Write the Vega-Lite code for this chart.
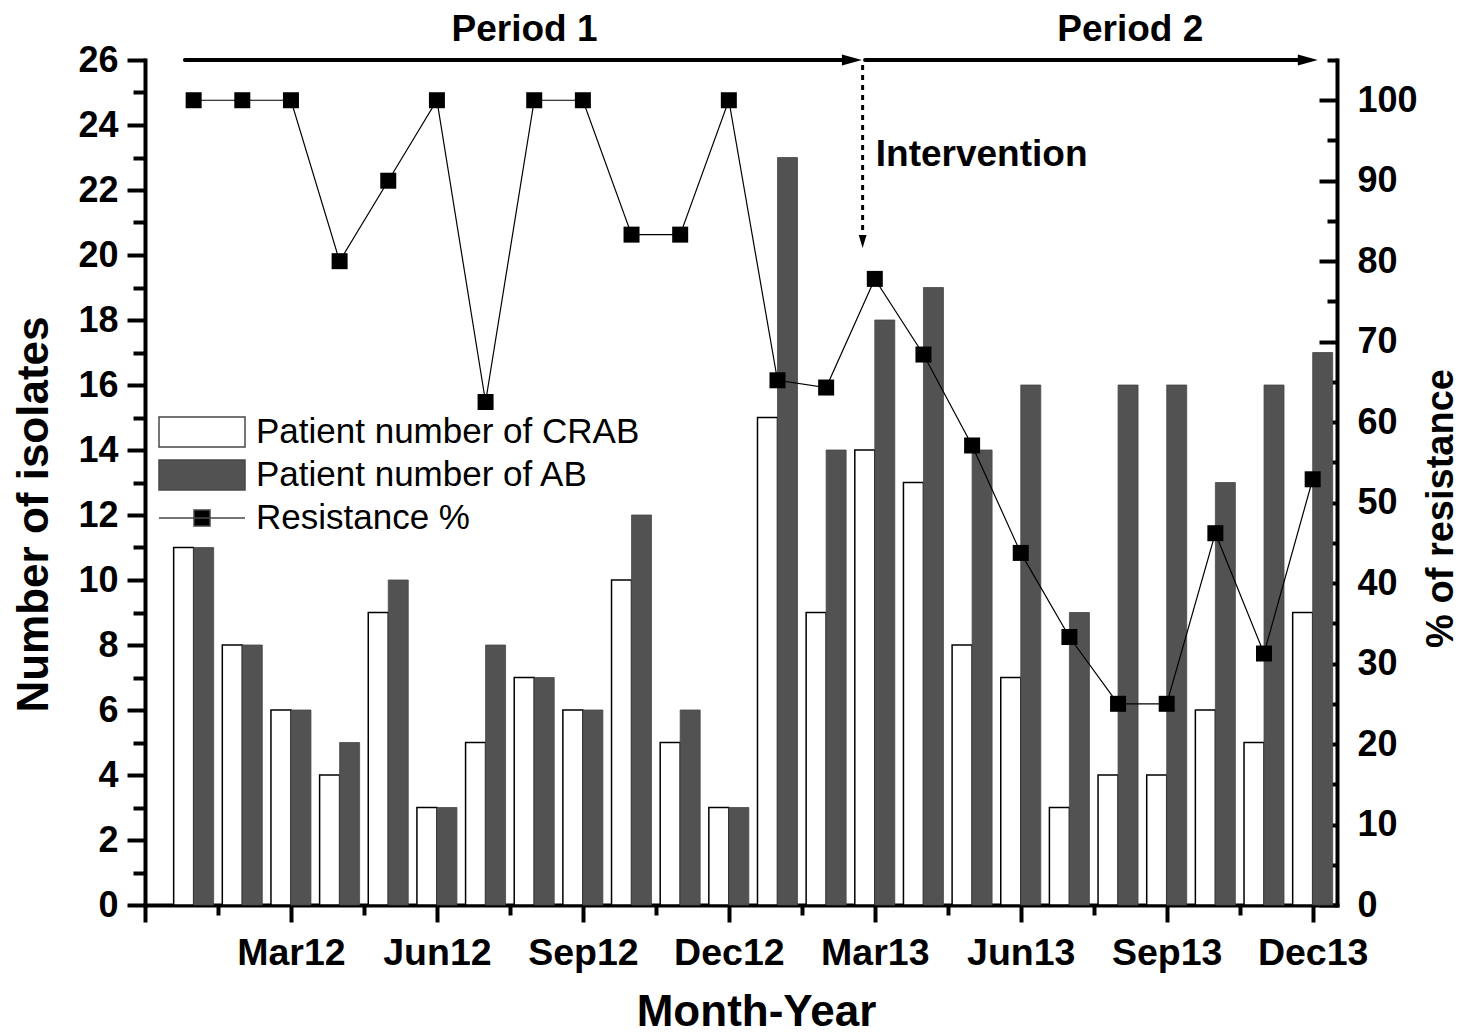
{
  "$schema": "https://vega.github.io/schema/vega-lite/v6.json",
  "width": 1192,
  "height": 845,
  "autosize": "none",
  "padding": {"left": 145, "top": 60, "right": 131, "bottom": 128},
  "background": "white",
  "datasets": {
    "monthly": [
      {"idx": 1, "month": "Jan12", "crab": 11, "ab": 11, "res": 100},
      {"idx": 2, "month": "Feb12", "crab": 8, "ab": 8, "res": 100},
      {"idx": 3, "month": "Mar12", "crab": 6, "ab": 6, "res": 100},
      {"idx": 4, "month": "Apr12", "crab": 4, "ab": 5, "res": 80},
      {"idx": 5, "month": "May12", "crab": 9, "ab": 10, "res": 90},
      {"idx": 6, "month": "Jun12", "crab": 3, "ab": 3, "res": 100},
      {"idx": 7, "month": "Jul12", "crab": 5, "ab": 8, "res": 62.5},
      {"idx": 8, "month": "Aug12", "crab": 7, "ab": 7, "res": 100},
      {"idx": 9, "month": "Sep12", "crab": 6, "ab": 6, "res": 100},
      {"idx": 10, "month": "Oct12", "crab": 10, "ab": 12, "res": 83.3},
      {"idx": 11, "month": "Nov12", "crab": 5, "ab": 6, "res": 83.3},
      {"idx": 12, "month": "Dec12", "crab": 3, "ab": 3, "res": 100},
      {"idx": 13, "month": "Jan13", "crab": 15, "ab": 23, "res": 65.2},
      {"idx": 14, "month": "Feb13", "crab": 9, "ab": 14, "res": 64.3},
      {"idx": 15, "month": "Mar13", "crab": 14, "ab": 18, "res": 77.8},
      {"idx": 16, "month": "Apr13", "crab": 13, "ab": 19, "res": 68.4},
      {"idx": 17, "month": "May13", "crab": 8, "ab": 14, "res": 57.1},
      {"idx": 18, "month": "Jun13", "crab": 7, "ab": 16, "res": 43.75},
      {"idx": 19, "month": "Jul13", "crab": 3, "ab": 9, "res": 33.3},
      {"idx": 20, "month": "Aug13", "crab": 4, "ab": 16, "res": 25},
      {"idx": 21, "month": "Sep13", "crab": 4, "ab": 16, "res": 25},
      {"idx": 22, "month": "Oct13", "crab": 6, "ab": 13, "res": 46.2},
      {"idx": 23, "month": "Nov13", "crab": 5, "ab": 16, "res": 31.25},
      {"idx": 24, "month": "Dec13", "crab": 9, "ab": 17, "res": 52.9}
    ],
    "periods": [
      {"label": "Period 1", "start": 0.82, "end": 14.4, "head": 14.53, "mid": 7.8},
      {"label": "Period 2", "start": 14.8, "end": 23.8, "head": 23.9, "mid": 20.25}
    ],
    "intervention": [
      {"label": "Intervention", "x": 14.75, "top": 25.85, "bottom": 20.55, "head": 20.415, "textX": 15.02, "textY": 22.74}
    ]
  },
  "layer": [
    {
      "resolve": {"axis": {"x": "independent", "y": "independent"}},
      "layer": [
        {
          "data": {"name": "monthly"},
          "mark": {"type": "bar", "width": 20, "xOffset": -10, "stroke": "black", "strokeWidth": 1.5},
          "encoding": {
            "x": {
              "field": "idx", "type": "quantitative",
              "scale": {"domain": [0, 24.5], "nice": false, "zero": false, "padding": 0},
              "axis": {
                "orient": "bottom",
                "values": [0, 3, 6, 9, 12, 15, 18, 21, 24],
                "labelExpr": "datum.value > 0 ? ['Mar12','Jun12','Sep12','Dec12','Mar13','Jun13','Sep13','Dec13'][datum.value/3-1] : ''",
                "tickSize": 17,
                "labelPadding": 12,
                "labelFontSize": 37.5,
                "title": "Month-Year",
                "titleFontSize": 44,
                "titleX": 611,
                "titleY": 120,
                "titleAlign": "center",
                "titleBaseline": "alphabetic"
              }
            },
            "y": {
              "field": "crab", "type": "quantitative",
              "scale": {"domain": [0, 26], "nice": false},
              "axis": {
                "orient": "left",
                "values": [0, 2, 4, 6, 8, 10, 12, 14, 16, 18, 20, 22, 24, 26],
                "tickSize": 18,
                "labelPadding": 9,
                "title": "Number of isolates",
                "titleFontSize": 44,
                "titleAngle": 270,
                "titleX": -98,
                "titleY": 454,
                "titleAlign": "center",
                "titleBaseline": "alphabetic"
              }
            },
            "color": {
              "datum": "Patient number of CRAB", "type": "nominal",
              "scale": {
                "domain": ["Patient number of CRAB", "Patient number of AB", "Resistance %"],
                "range": ["white", "#525252", "black"]
              },
              "legend": {
                "title": null,
                "orient": "none",
                "legendX": 13,
                "legendY": 350.5,
                "padding": 0,
                "symbolSize": 7396,
                "symbolType": {"expr": "datum.value === 'Resistance %' ? 'M-1,0H1M-0.186,-0.186H0.186V0.186H-0.186Z' : 'M-1,-0.35H1V0.35H-1Z'"},
                "symbolStrokeColor": "black",
                "symbolStrokeWidth": 1.5,
                "symbolOpacity": 1,
                "clipHeight": 43,
                "rowPadding": 0,
                "labelOffset": 10,
                "labelFont": "Liberation Sans",
                "labelFontSize": 35,
                "labelFontWeight": "normal",
                "labelColor": "black",
                "labelLimit": 600
              }
            }
          }
        },
        {
          "data": {"name": "monthly"},
          "mark": {"type": "bar", "width": 20, "xOffset": 10, "stroke": "#474747", "strokeWidth": 0.8},
          "encoding": {
            "x": {
              "field": "idx", "type": "quantitative",
              "axis": {
                "orient": "bottom",
                "values": [1.5, 4.5, 7.5, 10.5, 13.5, 16.5, 19.5, 22.5],
                "tickSize": 10,
                "labels": false,
                "domain": false,
                "title": null
              }
            },
            "y": {
              "field": "ab", "type": "quantitative",
              "axis": {
                "orient": "left",
                "values": [1, 3, 5, 7, 9, 11, 13, 15, 17, 19, 21, 23, 25],
                "tickSize": 12,
                "labels": false,
                "domain": false,
                "title": null
              }
            },
            "color": {"datum": "Patient number of AB", "type": "nominal"}
          }
        },
        {
          "data": {"name": "periods"},
          "mark": {"type": "rule", "strokeWidth": 4, "color": "black", "strokeCap": "round"},
          "encoding": {
            "x": {"field": "start", "type": "quantitative", "axis": null},
            "x2": {"field": "end"},
            "y": {"datum": 26, "type": "quantitative", "axis": null}
          }
        },
        {
          "data": {"name": "periods"},
          "mark": {"type": "point", "shape": "M-1,-0.55L1,0L-1,0.55Z", "size": 400, "filled": true, "color": "black", "opacity": 1, "strokeWidth": 0},
          "encoding": {
            "x": {"field": "head", "type": "quantitative", "axis": null},
            "y": {"datum": 26, "type": "quantitative", "axis": null}
          }
        },
        {
          "data": {"name": "periods"},
          "mark": {"type": "text", "font": "Liberation Sans", "fontSize": 37, "fontWeight": "bold", "color": "black", "align": "center", "baseline": "alphabetic"},
          "encoding": {
            "x": {"field": "mid", "type": "quantitative", "axis": null},
            "y": {"datum": 26.6, "type": "quantitative", "axis": null},
            "text": {"field": "label"}
          }
        },
        {
          "data": {"name": "intervention"},
          "mark": {"type": "rule", "strokeWidth": 3, "color": "black", "strokeDash": [5, 5]},
          "encoding": {
            "x": {"field": "x", "type": "quantitative", "axis": null},
            "y": {"field": "top", "type": "quantitative", "axis": null},
            "y2": {"field": "bottom"}
          }
        },
        {
          "data": {"name": "intervention"},
          "mark": {"type": "point", "shape": "M-0.6,-1L0.6,-1L0,1Z", "size": 169, "filled": true, "color": "black", "opacity": 1, "strokeWidth": 0},
          "encoding": {
            "x": {"field": "x", "type": "quantitative", "axis": null},
            "y": {"field": "head", "type": "quantitative", "axis": null}
          }
        },
        {
          "data": {"name": "intervention"},
          "mark": {"type": "text", "font": "Liberation Sans", "fontSize": 37, "fontWeight": "bold", "color": "black", "align": "left", "baseline": "alphabetic"},
          "encoding": {
            "x": {"field": "textX", "type": "quantitative", "axis": null},
            "y": {"field": "textY", "type": "quantitative", "axis": null},
            "text": {"field": "label"}
          }
        }
      ]
    },
    {
      "resolve": {"axis": {"y": "independent"}},
      "layer": [
        {
          "data": {"name": "monthly"},
          "mark": {"type": "line", "strokeWidth": 1.2, "color": "black"},
          "encoding": {
            "x": {"field": "idx", "type": "quantitative", "axis": null},
            "y": {
              "field": "res", "type": "quantitative",
              "scale": {"domain": [0, 105], "nice": false},
              "axis": {
                "orient": "right",
                "values": [0, 10, 20, 30, 40, 50, 60, 70, 80, 90, 100],
                "tickSize": -18,
                "labelPadding": 38,
                "title": "% of resistance",
                "titleFontSize": 38,
                "titleAngle": 270,
                "titleX": 115,
                "titleY": 448,
                "titleAlign": "center",
                "titleBaseline": "alphabetic"
              }
            }
          }
        },
        {
          "data": {"name": "monthly"},
          "mark": {"type": "point", "shape": "square", "filled": true, "size": 256, "opacity": 1, "color": "black"},
          "encoding": {
            "x": {"field": "idx", "type": "quantitative", "axis": null},
            "y": {
              "field": "res", "type": "quantitative",
              "axis": {
                "orient": "right",
                "values": [5, 15, 25, 35, 45, 55, 65, 75, 85, 95, 105],
                "tickSize": -10,
                "labels": false,
                "domain": false,
                "title": null
              }
            }
          }
        }
      ]
    }
  ],
  "resolve": {"scale": {"y": "independent"}},
  "config": {
    "view": {"stroke": null},
    "font": "Liberation Sans",
    "axis": {
      "domainColor": "black",
      "domainWidth": 4,
      "domainCap": "square",
      "tickColor": "black",
      "tickWidth": 4,
      "labelColor": "black",
      "titleColor": "black",
      "labelFont": "Liberation Sans",
      "labelFontWeight": "bold",
      "labelFontSize": 36,
      "titleFont": "Liberation Sans",
      "titleFontWeight": "bold",
      "grid": false,
      "labelOverlap": false,
      "labelFlush": false,
      "labelBound": false
    }
  }
}
